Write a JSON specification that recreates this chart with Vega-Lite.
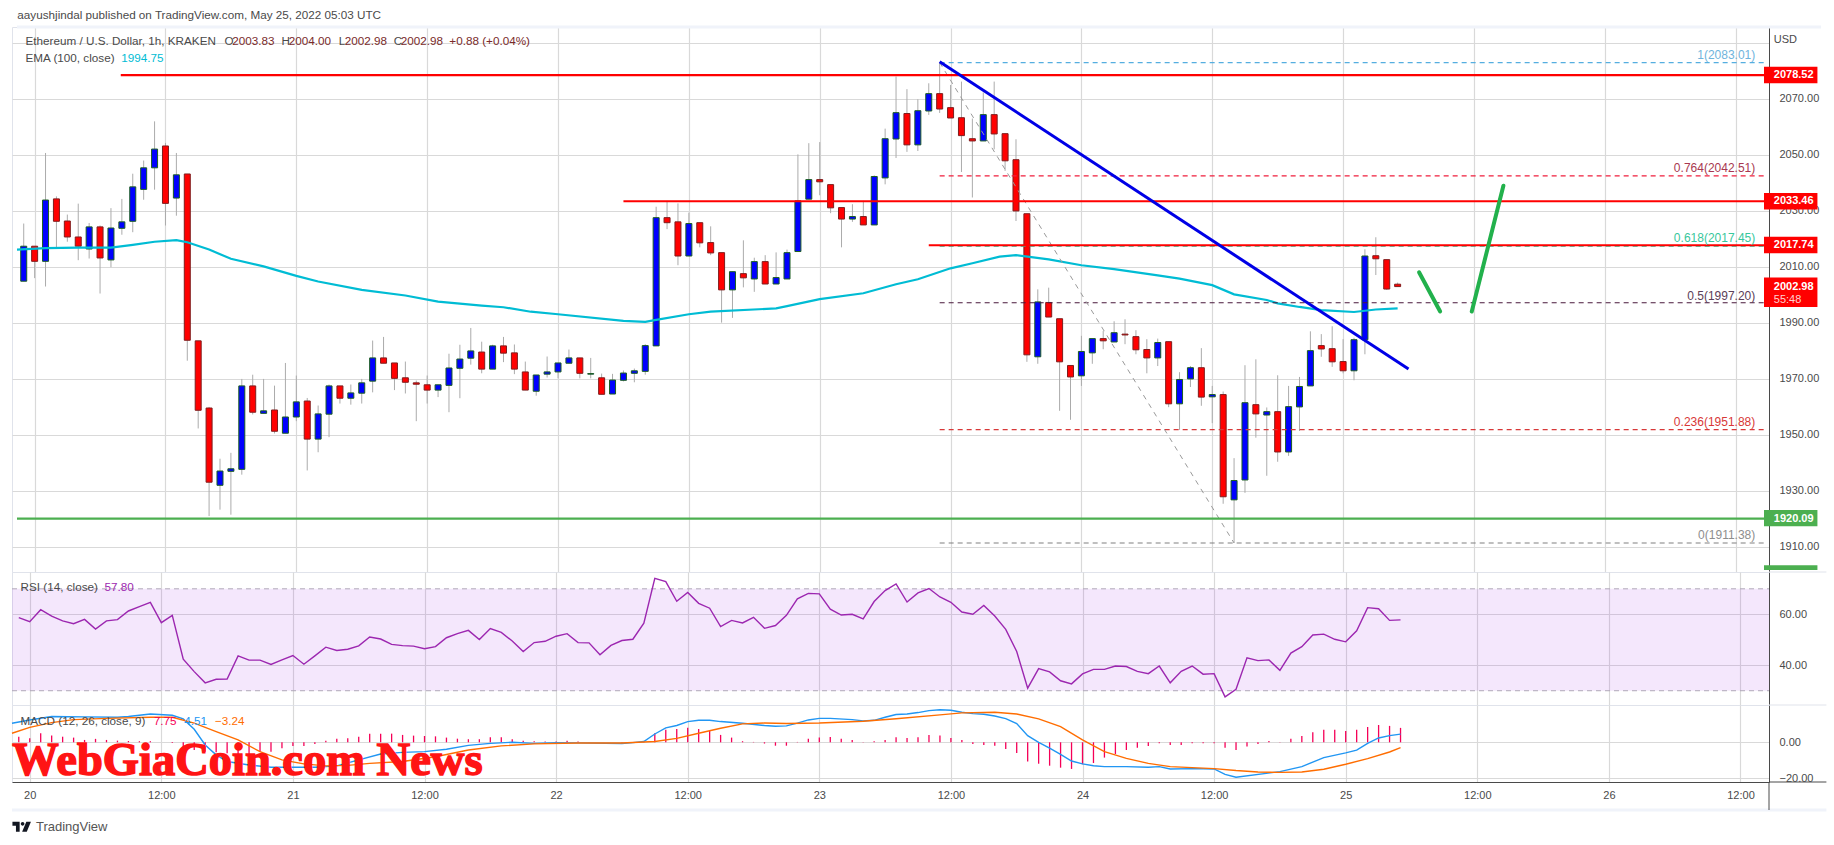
{
"$schema":"https://vega.github.io/schema/vega-lite/v6.json",
"background":"white",
"padding":{"left":8,"top":9,"right":0,"bottom":0},
"spacing":0,
"bounds":"flush",
"config":{"view":{"stroke":"#e0e3eb"},"legend":{"disable":true},
"axis":{"labelFont":"Liberation Sans","labelFontSize":11,"labelColor":"#4a4a4a","gridColor":"#d9d9d9","gridWidth":1.2,"ticks":false,"title":null,"domainColor":"#4a4a4a","labelOverlap":false},
"text":{"font":"Liberation Sans"}},
"datasets":{
"candles":[
{"t":"2022-05-19T23:00Z","d":"up","o":2004.9,"h":2025.5,"l":2004.9,"c":2017.4,"rsi":58.7,"hist":3.1},
{"t":"2022-05-20T00:00Z","d":"down","o":2017.4,"h":2017.4,"l":2006,"c":2012,"rsi":57.1,"hist":2.2},
{"t":"2022-05-20T01:00Z","d":"up","o":2012,"h":2050.7,"l":2003,"c":2033.9,"rsi":61.8,"hist":5},
{"t":"2022-05-20T02:00Z","d":"down","o":2034.3,"h":2035.2,"l":2016.8,"c":2026.3,"rsi":59.3,"hist":3.7},
{"t":"2022-05-20T03:00Z","d":"down","o":2026.4,"h":2028.7,"l":2019,"c":2020.7,"rsi":57.4,"hist":3.1},
{"t":"2022-05-20T04:00Z","d":"down","o":2020.7,"h":2032.6,"l":2012.4,"c":2017.4,"rsi":56.3,"hist":2.6},
{"t":"2022-05-20T05:00Z","d":"up","o":2016.4,"h":2025.7,"l":2013,"c":2024.3,"rsi":58,"hist":1.3},
{"t":"2022-05-20T06:00Z","d":"down","o":2024.3,"h":2024.8,"l":2000.5,"c":2013.2,"rsi":54.2,"hist":1.9},
{"t":"2022-05-20T07:00Z","d":"up","o":2012.5,"h":2031,"l":2009.9,"c":2023.9,"rsi":57.4,"hist":1.3},
{"t":"2022-05-20T08:00Z","d":"up","o":2023.8,"h":2034.3,"l":2021.5,"c":2026.1,"rsi":57.9,"hist":0.9},
{"t":"2022-05-20T09:00Z","d":"up","o":2026.3,"h":2043.3,"l":2022.4,"c":2038.6,"rsi":61.3,"hist":0.7},
{"t":"2022-05-20T10:00Z","d":"up","o":2037.7,"h":2048,"l":2034,"c":2045.4,"rsi":63,"hist":0.6},
{"t":"2022-05-20T11:00Z","d":"up","o":2045.4,"h":2062,"l":2037.6,"c":2052.1,"rsi":64.7,"hist":0.6},
{"t":"2022-05-20T12:00Z","d":"down","o":2053.2,"h":2054.3,"l":2024.8,"c":2032.7,"rsi":56.7,"hist":0},
{"t":"2022-05-20T13:00Z","d":"up","o":2034.6,"h":2050.7,"l":2028.3,"c":2042.9,"rsi":59.6,"hist":-0.4},
{"t":"2022-05-20T14:00Z","d":"down","o":2043.2,"h":2043.2,"l":1976.5,"c":1983.8,"rsi":42.4,"hist":-3.3},
{"t":"2022-05-20T15:00Z","d":"down","o":1983.6,"h":1983.6,"l":1952.3,"c":1958.8,"rsi":37.5,"hist":-4.3},
{"t":"2022-05-20T16:00Z","d":"down","o":1959.6,"h":1960,"l":1921,"c":1933.1,"rsi":33.1,"hist":-5.2},
{"t":"2022-05-20T17:00Z","d":"up","o":1932,"h":1941.5,"l":1923.3,"c":1937.1,"rsi":34.5,"hist":-5.6},
{"t":"2022-05-20T18:00Z","d":"up","o":1937,"h":1943.6,"l":1921.5,"c":1937.9,"rsi":34.6,"hist":-6.1},
{"t":"2022-05-20T19:00Z","d":"up","o":1937.7,"h":1970,"l":1935.8,"c":1967.5,"rsi":43.7,"hist":-7},
{"t":"2022-05-20T20:00Z","d":"down","o":1967.5,"h":1971.5,"l":1957.3,"c":1958.1,"rsi":42,"hist":-6.7},
{"t":"2022-05-20T21:00Z","d":"up","o":1957.7,"h":1970,"l":1957.7,"c":1958.6,"rsi":42,"hist":-5.2},
{"t":"2022-05-20T22:00Z","d":"down","o":1958.9,"h":1967.6,"l":1950.5,"c":1951.3,"rsi":40.3,"hist":-5.2},
{"t":"2022-05-20T23:00Z","d":"up","o":1950.6,"h":1975.7,"l":1950.6,"c":1956.4,"rsi":42.1,"hist":-3.3},
{"t":"2022-05-21T00:00Z","d":"up","o":1956.4,"h":1971.2,"l":1954.9,"c":1961.8,"rsi":43.8,"hist":-2},
{"t":"2022-05-21T01:00Z","d":"down","o":1962.1,"h":1963.2,"l":1937.3,"c":1948.5,"rsi":40.4,"hist":-2},
{"t":"2022-05-21T02:00Z","d":"up","o":1948.5,"h":1960.5,"l":1943.8,"c":1957.5,"rsi":43.7,"hist":-0.9},
{"t":"2022-05-21T03:00Z","d":"up","o":1957.4,"h":1968,"l":1949.2,"c":1967.5,"rsi":47.1,"hist":0.9},
{"t":"2022-05-21T04:00Z","d":"down","o":1967.5,"h":1967.5,"l":1961.2,"c":1963.1,"rsi":45.8,"hist":1.9},
{"t":"2022-05-21T05:00Z","d":"up","o":1963.1,"h":1968,"l":1960.8,"c":1965,"rsi":46.3,"hist":2.2},
{"t":"2022-05-21T06:00Z","d":"up","o":1964.9,"h":1970,"l":1961.2,"c":1968.6,"rsi":47.6,"hist":3.1},
{"t":"2022-05-21T07:00Z","d":"up","o":1969.2,"h":1983.7,"l":1965.2,"c":1977.5,"rsi":51.1,"hist":4.8},
{"t":"2022-05-21T08:00Z","d":"down","o":1977.5,"h":1985,"l":1975.6,"c":1975.6,"rsi":50.3,"hist":4.8},
{"t":"2022-05-21T09:00Z","d":"down","o":1975.7,"h":1975.7,"l":1966,"c":1970.2,"rsi":48.2,"hist":4.8},
{"t":"2022-05-21T10:00Z","d":"down","o":1970.4,"h":1976.2,"l":1964.8,"c":1968.8,"rsi":47.7,"hist":4.1},
{"t":"2022-05-21T11:00Z","d":"down","o":1968.6,"h":1969.4,"l":1954.9,"c":1968.1,"rsi":47.5,"hist":3.7},
{"t":"2022-05-21T12:00Z","d":"down","o":1967.9,"h":1971.2,"l":1961.2,"c":1966,"rsi":46.5,"hist":3.5},
{"t":"2022-05-21T13:00Z","d":"up","o":1966,"h":1967.9,"l":1963.5,"c":1967.9,"rsi":47.3,"hist":3.3},
{"t":"2022-05-21T14:00Z","d":"up","o":1967.7,"h":1979,"l":1958.1,"c":1973.9,"rsi":50.8,"hist":2.6},
{"t":"2022-05-21T15:00Z","d":"up","o":1973.8,"h":1982.2,"l":1963.1,"c":1977.1,"rsi":52.4,"hist":2},
{"t":"2022-05-21T16:00Z","d":"up","o":1977.4,"h":1988.2,"l":1975.1,"c":1980,"rsi":53.7,"hist":1.7},
{"t":"2022-05-21T17:00Z","d":"down","o":1979.6,"h":1983.3,"l":1972,"c":1973.5,"rsi":50.1,"hist":1.7},
{"t":"2022-05-21T18:00Z","d":"up","o":1973.5,"h":1982.2,"l":1973.5,"c":1981.8,"rsi":54.4,"hist":2.8},
{"t":"2022-05-21T19:00Z","d":"down","o":1981.8,"h":1985,"l":1976,"c":1979.2,"rsi":52.9,"hist":2.8},
{"t":"2022-05-21T20:00Z","d":"down","o":1979.3,"h":1982.3,"l":1971.7,"c":1973.5,"rsi":49.5,"hist":1.7},
{"t":"2022-05-21T21:00Z","d":"down","o":1972.5,"h":1976.2,"l":1966,"c":1966,"rsi":45.4,"hist":0.9},
{"t":"2022-05-21T22:00Z","d":"up","o":1965.6,"h":1971.4,"l":1964,"c":1971.4,"rsi":48.9,"hist":0.6},
{"t":"2022-05-21T23:00Z","d":"up","o":1971.7,"h":1978,"l":1970.5,"c":1972.5,"rsi":49.4,"hist":0.4},
{"t":"2022-05-22T00:00Z","d":"up","o":1972.5,"h":1975.7,"l":1970.2,"c":1975.7,"rsi":51.4,"hist":0.4},
{"t":"2022-05-22T01:00Z","d":"up","o":1975.6,"h":1980.5,"l":1975.6,"c":1977.5,"rsi":52.4,"hist":0.9},
{"t":"2022-05-22T02:00Z","d":"down","o":1977.5,"h":1977.5,"l":1970.2,"c":1972,"rsi":48.9,"hist":0.4},
{"t":"2022-05-22T03:00Z","d":"up","o":1971.7,"h":1977.5,"l":1970.2,"c":1971.9,"rsi":48.8,"hist":0.2},
{"t":"2022-05-22T04:00Z","d":"down","o":1970.4,"h":1971.9,"l":1964.5,"c":1964.5,"rsi":44.1,"hist":0},
{"t":"2022-05-22T05:00Z","d":"up","o":1964.6,"h":1971.8,"l":1964.6,"c":1969.6,"rsi":47.8,"hist":0},
{"t":"2022-05-22T06:00Z","d":"up","o":1969.5,"h":1973,"l":1969.1,"c":1972.1,"rsi":49.7,"hist":-0.2},
{"t":"2022-05-22T07:00Z","d":"up","o":1972,"h":1973.7,"l":1968.8,"c":1972.9,"rsi":50.2,"hist":0.2},
{"t":"2022-05-22T08:00Z","d":"up","o":1972.7,"h":1982.4,"l":1971.5,"c":1981.9,"rsi":56.5,"hist":0.6},
{"t":"2022-05-22T09:00Z","d":"up","o":1981.8,"h":2031.5,"l":1981.8,"c":2027.6,"rsi":74.1,"hist":5},
{"t":"2022-05-22T10:00Z","d":"down","o":2027.6,"h":2033.6,"l":2023.5,"c":2025.8,"rsi":72.8,"hist":6.9},
{"t":"2022-05-22T11:00Z","d":"down","o":2026.1,"h":2032.7,"l":2010.6,"c":2013.9,"rsi":65.1,"hist":7.4},
{"t":"2022-05-22T12:00Z","d":"up","o":2013.9,"h":2029.4,"l":2013.9,"c":2025.5,"rsi":68.6,"hist":8},
{"t":"2022-05-22T13:00Z","d":"down","o":2025.8,"h":2025.8,"l":2017,"c":2018.6,"rsi":64.3,"hist":7.4},
{"t":"2022-05-22T14:00Z","d":"down","o":2018.7,"h":2024.5,"l":2014.2,"c":2015,"rsi":62.4,"hist":6.3},
{"t":"2022-05-22T15:00Z","d":"down","o":2015.1,"h":2015.1,"l":1990.1,"c":2001.8,"rsi":55.2,"hist":4.1},
{"t":"2022-05-22T16:00Z","d":"up","o":2001.8,"h":2008.3,"l":1991.8,"c":2008.3,"rsi":57.6,"hist":2.6},
{"t":"2022-05-22T17:00Z","d":"down","o":2007.6,"h":2019.5,"l":2002.7,"c":2006.1,"rsi":56.6,"hist":0.6},
{"t":"2022-05-22T18:00Z","d":"up","o":2005.7,"h":2013.3,"l":2001.1,"c":2011.9,"rsi":58.8,"hist":0.2},
{"t":"2022-05-22T19:00Z","d":"down","o":2011.9,"h":2014.2,"l":2003.9,"c":2003.9,"rsi":54.5,"hist":-0.7},
{"t":"2022-05-22T20:00Z","d":"up","o":2003.9,"h":2015.2,"l":2003.9,"c":2006.2,"rsi":55.6,"hist":-1.9},
{"t":"2022-05-22T21:00Z","d":"up","o":2005.7,"h":2016.2,"l":2005.7,"c":2015.1,"rsi":59.6,"hist":-1.9},
{"t":"2022-05-22T22:00Z","d":"up","o":2015.5,"h":2050.2,"l":2015.5,"c":2033.6,"rsi":66.1,"hist":0.2},
{"t":"2022-05-22T23:00Z","d":"up","o":2034.2,"h":2054.2,"l":2034.2,"c":2041.2,"rsi":68.2,"hist":1.9},
{"t":"2022-05-23T00:00Z","d":"down","o":2041.2,"h":2054.6,"l":2035.6,"c":2040.4,"rsi":68,"hist":2.6},
{"t":"2022-05-23T01:00Z","d":"down","o":2039.4,"h":2039.4,"l":2029.2,"c":2031.1,"rsi":62,"hist":3},
{"t":"2022-05-23T02:00Z","d":"down","o":2031.2,"h":2031.2,"l":2017,"c":2027.1,"rsi":59.7,"hist":2},
{"t":"2022-05-23T03:00Z","d":"up","o":2027.1,"h":2032.4,"l":2026.1,"c":2028,"rsi":60,"hist":1.3},
{"t":"2022-05-23T04:00Z","d":"down","o":2028,"h":2033.6,"l":2025,"c":2025,"rsi":58.2,"hist":0.2},
{"t":"2022-05-23T05:00Z","d":"up","o":2025,"h":2042.7,"l":2025,"c":2042.3,"rsi":65,"hist":0.6},
{"t":"2022-05-23T06:00Z","d":"up","o":2041.8,"h":2059.4,"l":2039.5,"c":2055.8,"rsi":69.3,"hist":1.3},
{"t":"2022-05-23T07:00Z","d":"up","o":2055.7,"h":2078,"l":2048.9,"c":2065.1,"rsi":71.9,"hist":2.8},
{"t":"2022-05-23T08:00Z","d":"down","o":2064.8,"h":2073.5,"l":2051.1,"c":2053.6,"rsi":64.8,"hist":2.4},
{"t":"2022-05-23T09:00Z","d":"up","o":2053.6,"h":2069.9,"l":2051.4,"c":2065.8,"rsi":68.4,"hist":2.8},
{"t":"2022-05-23T10:00Z","d":"up","o":2065.7,"h":2075.6,"l":2064.3,"c":2071.9,"rsi":70.1,"hist":4.1},
{"t":"2022-05-23T11:00Z","d":"down","o":2071.9,"h":2083,"l":2065,"c":2066.4,"rsi":66.8,"hist":3.7},
{"t":"2022-05-23T12:00Z","d":"down","o":2066.9,"h":2075,"l":2063.2,"c":2063.2,"rsi":64.7,"hist":2.4},
{"t":"2022-05-23T13:00Z","d":"down","o":2063.3,"h":2076.2,"l":2043.9,"c":2056.9,"rsi":60.9,"hist":1.3},
{"t":"2022-05-23T14:00Z","d":"down","o":2055.8,"h":2063,"l":2034.8,"c":2055,"rsi":60,"hist":-0.9},
{"t":"2022-05-23T15:00Z","d":"up","o":2055,"h":2072.3,"l":2055,"c":2064.4,"rsi":63.5,"hist":-1.5},
{"t":"2022-05-23T16:00Z","d":"down","o":2064.4,"h":2076.2,"l":2052,"c":2057.5,"rsi":59.3,"hist":-1.9},
{"t":"2022-05-23T17:00Z","d":"down","o":2057.6,"h":2057.6,"l":2044.3,"c":2047.9,"rsi":54.1,"hist":-3.7},
{"t":"2022-05-23T18:00Z","d":"down","o":2048.3,"h":2055.6,"l":2026.4,"c":2030,"rsi":45.4,"hist":-5.9},
{"t":"2022-05-23T19:00Z","d":"down","o":2029,"h":2029,"l":1976.1,"c":1978.6,"rsi":31,"hist":-10.7},
{"t":"2022-05-23T20:00Z","d":"up","o":1977.9,"h":2002,"l":1975.4,"c":1997.5,"rsi":38.7,"hist":-11.9},
{"t":"2022-05-23T21:00Z","d":"down","o":1997.3,"h":2002.6,"l":1992.1,"c":1992.1,"rsi":37.4,"hist":-13},
{"t":"2022-05-23T22:00Z","d":"down","o":1991.5,"h":1991.5,"l":1958.6,"c":1976.1,"rsi":33.9,"hist":-14.1},
{"t":"2022-05-23T23:00Z","d":"down","o":1974.8,"h":1974.8,"l":1955.4,"c":1970.7,"rsi":32.7,"hist":-14.8},
{"t":"2022-05-24T00:00Z","d":"up","o":1971.1,"h":1985.4,"l":1967.5,"c":1979.8,"rsi":36.6,"hist":-12.2},
{"t":"2022-05-24T01:00Z","d":"up","o":1979.3,"h":1984.4,"l":1975.4,"c":1984.4,"rsi":38.4,"hist":-11.5},
{"t":"2022-05-24T02:00Z","d":"down","o":1984.4,"h":1987.1,"l":1980.6,"c":1983.6,"rsi":38.4,"hist":-8.5},
{"t":"2022-05-24T03:00Z","d":"up","o":1983.2,"h":1990.6,"l":1983.2,"c":1986.5,"rsi":39.7,"hist":-6.5},
{"t":"2022-05-24T04:00Z","d":"down","o":1986,"h":1991.3,"l":1982.4,"c":1985.7,"rsi":39.5,"hist":-4.3},
{"t":"2022-05-24T05:00Z","d":"down","o":1985.1,"h":1987.4,"l":1978.8,"c":1980.4,"rsi":37.6,"hist":-3},
{"t":"2022-05-24T06:00Z","d":"down","o":1980.5,"h":1984.2,"l":1972,"c":1977.5,"rsi":36.7,"hist":-2},
{"t":"2022-05-24T07:00Z","d":"up","o":1977.5,"h":1984.4,"l":1974.6,"c":1983,"rsi":39.7,"hist":-0.6},
{"t":"2022-05-24T08:00Z","d":"down","o":1983.3,"h":1983.3,"l":1959.9,"c":1961.1,"rsi":33.1,"hist":-1.5},
{"t":"2022-05-24T09:00Z","d":"up","o":1961.1,"h":1972.4,"l":1951.8,"c":1969.8,"rsi":37.6,"hist":-1.5},
{"t":"2022-05-24T10:00Z","d":"up","o":1970,"h":1974.6,"l":1967.1,"c":1974,"rsi":39.7,"hist":-0.6},
{"t":"2022-05-24T11:00Z","d":"down","o":1974,"h":1981,"l":1960.4,"c":1963.5,"rsi":36.5,"hist":-0.6},
{"t":"2022-05-24T12:00Z","d":"up","o":1963.6,"h":1967.5,"l":1954.2,"c":1964.4,"rsi":36.7,"hist":-0.6},
{"t":"2022-05-24T13:00Z","d":"down","o":1964.4,"h":1965.5,"l":1925.4,"c":1927.9,"rsi":27.6,"hist":-3},
{"t":"2022-05-24T14:00Z","d":"up","o":1926.8,"h":1941.7,"l":1911.4,"c":1933.7,"rsi":30.6,"hist":-4.3},
{"t":"2022-05-24T15:00Z","d":"up","o":1933.9,"h":1974.9,"l":1929.3,"c":1961.5,"rsi":42.9,"hist":-2.4},
{"t":"2022-05-24T16:00Z","d":"down","o":1960.8,"h":1977,"l":1949,"c":1957.5,"rsi":41.8,"hist":-0.9},
{"t":"2022-05-24T17:00Z","d":"up","o":1957.1,"h":1959.8,"l":1935.4,"c":1958.3,"rsi":42.1,"hist":0.7},
{"t":"2022-05-24T18:00Z","d":"down","o":1958.3,"h":1971.3,"l":1940.4,"c":1943.9,"rsi":38,"hist":0.2},
{"t":"2022-05-24T19:00Z","d":"up","o":1943.9,"h":1967.5,"l":1942.5,"c":1960.1,"rsi":44.8,"hist":1.9},
{"t":"2022-05-24T20:00Z","d":"up","o":1960,"h":1970.7,"l":1951.4,"c":1967.3,"rsi":47.3,"hist":3.5},
{"t":"2022-05-24T21:00Z","d":"up","o":1967.5,"h":1987,"l":1967.5,"c":1980.1,"rsi":51.9,"hist":5.6},
{"t":"2022-05-24T22:00Z","d":"down","o":1981.9,"h":1986,"l":1977.9,"c":1980.7,"rsi":52.2,"hist":6.9},
{"t":"2022-05-24T23:00Z","d":"down","o":1980.8,"h":1988.8,"l":1974.3,"c":1976.1,"rsi":50.2,"hist":6.9},
{"t":"2022-05-25T00:00Z","d":"down","o":1976.2,"h":1984.2,"l":1972,"c":1972.9,"rsi":49.2,"hist":6.3},
{"t":"2022-05-25T01:00Z","d":"up","o":1972.9,"h":1984.7,"l":1969.5,"c":1984,"rsi":53.5,"hist":6.9},
{"t":"2022-05-25T02:00Z","d":"up","o":1984,"h":2016.3,"l":1978.8,"c":2013.9,"rsi":62.6,"hist":8.5},
{"t":"2022-05-25T03:00Z","d":"down","o":2014,"h":2020.6,"l":2007.1,"c":2012.9,"rsi":62.2,"hist":9.6},
{"t":"2022-05-25T04:00Z","d":"down","o":2012.6,"h":2012.6,"l":2001.8,"c":2002.1,"rsi":57.6,"hist":9.1},
{"t":"2022-05-25T05:00Z","d":"down","o":2003.83,"h":2004.4,"l":2002.98,"c":2002.98,"rsi":57.8,"hist":8}
],
"ema":[
{"t":"2022-05-19T22:23Z","v":2016.2},{"t":"2022-05-20T01:00Z","v":2016.7},{"t":"2022-05-20T04:00Z","v":2016.9},{"t":"2022-05-20T07:00Z","v":2016.9},{"t":"2022-05-20T09:00Z","v":2017.9},{"t":"2022-05-20T11:00Z","v":2019},{"t":"2022-05-20T13:00Z","v":2019.6},{"t":"2022-05-20T14:00Z","v":2018.8},{"t":"2022-05-20T16:00Z","v":2016.2},{"t":"2022-05-20T18:00Z","v":2012.9},{"t":"2022-05-20T21:00Z","v":2010.2},{"t":"2022-05-21T00:00Z","v":2006.8},{"t":"2022-05-21T02:00Z","v":2004.8},{"t":"2022-05-21T06:00Z","v":2001.8},{"t":"2022-05-21T10:00Z","v":1999.8},{"t":"2022-05-21T13:00Z","v":1997.6},{"t":"2022-05-21T17:00Z","v":1996.2},{"t":"2022-05-21T19:00Z","v":1995.6},{"t":"2022-05-21T21:30Z","v":1994},{"t":"2022-05-22T00:00Z","v":1993.1},{"t":"2022-05-22T06:00Z","v":1990.7},{"t":"2022-05-22T08:00Z","v":1990.4},{"t":"2022-05-22T09:00Z","v":1991.1},{"t":"2022-05-22T12:00Z","v":1993.1},{"t":"2022-05-22T14:00Z","v":1994},{"t":"2022-05-22T20:00Z","v":1995.2},{"t":"2022-05-22T21:00Z","v":1996},{"t":"2022-05-23T00:00Z","v":1998.5},{"t":"2022-05-23T04:00Z","v":2000.6},{"t":"2022-05-23T07:00Z","v":2003.8},{"t":"2022-05-23T09:00Z","v":2005.6},{"t":"2022-05-23T12:00Z","v":2009.5},{"t":"2022-05-23T14:00Z","v":2011.3},{"t":"2022-05-23T16:30Z","v":2013.7},{"t":"2022-05-23T18:00Z","v":2014.2},{"t":"2022-05-23T21:00Z","v":2012.7},{"t":"2022-05-24T00:00Z","v":2010.6},{"t":"2022-05-24T03:00Z","v":2009.2},{"t":"2022-05-24T07:00Z","v":2007},{"t":"2022-05-24T09:00Z","v":2005.8},{"t":"2022-05-24T12:00Z","v":2003.5},{"t":"2022-05-24T14:00Z","v":2000.2},{"t":"2022-05-24T17:00Z","v":1998.2},{"t":"2022-05-24T18:00Z","v":1997},{"t":"2022-05-24T20:00Z","v":1995.7},{"t":"2022-05-24T22:00Z","v":1994.6},{"t":"2022-05-25T01:00Z","v":1993.9},{"t":"2022-05-25T03:00Z","v":1994.8},{"t":"2022-05-25T05:00Z","v":1995.2}
],
"macd":[
{"t":"2022-05-19T22:23Z","v":10.6},{"t":"2022-05-20T00:00Z","v":12.4},{"t":"2022-05-20T02:00Z","v":14.3},{"t":"2022-05-20T05:00Z","v":14.1},{"t":"2022-05-20T08:00Z","v":13.9},{"t":"2022-05-20T09:00Z","v":14.3},{"t":"2022-05-20T11:00Z","v":15.7},{"t":"2022-05-20T13:00Z","v":15},{"t":"2022-05-20T14:00Z","v":13},{"t":"2022-05-20T15:00Z","v":7.2},{"t":"2022-05-20T16:00Z","v":-1.5},{"t":"2022-05-20T17:00Z","v":-7},{"t":"2022-05-20T18:00Z","v":-10.7},{"t":"2022-05-20T20:00Z","v":-12.6},{"t":"2022-05-20T22:00Z","v":-13.9},{"t":"2022-05-21T00:00Z","v":-13.9},{"t":"2022-05-21T02:00Z","v":-13.9},{"t":"2022-05-21T04:00Z","v":-13.1},{"t":"2022-05-21T06:00Z","v":-9.8},{"t":"2022-05-21T08:00Z","v":-6.5},{"t":"2022-05-21T10:00Z","v":-5.6},{"t":"2022-05-21T12:00Z","v":-5.2},{"t":"2022-05-21T14:00Z","v":-3.9},{"t":"2022-05-21T16:00Z","v":-1.7},{"t":"2022-05-21T18:00Z","v":-0.6},{"t":"2022-05-21T20:00Z","v":0},{"t":"2022-05-21T22:00Z","v":-0.6},{"t":"2022-05-22T00:00Z","v":-0.2},{"t":"2022-05-22T06:00Z","v":-0.7},{"t":"2022-05-22T07:00Z","v":-0.2},{"t":"2022-05-22T08:00Z","v":0.4},{"t":"2022-05-22T09:00Z","v":4.6},{"t":"2022-05-22T10:00Z","v":8},{"t":"2022-05-22T11:00Z","v":9.3},{"t":"2022-05-22T12:00Z","v":11.5},{"t":"2022-05-22T13:00Z","v":12.2},{"t":"2022-05-22T14:00Z","v":12.2},{"t":"2022-05-22T15:00Z","v":11.5},{"t":"2022-05-22T17:00Z","v":10.6},{"t":"2022-05-22T19:00Z","v":9.3},{"t":"2022-05-22T20:00Z","v":8.9},{"t":"2022-05-22T21:00Z","v":9.1},{"t":"2022-05-22T22:00Z","v":10.6},{"t":"2022-05-22T23:00Z","v":12.4},{"t":"2022-05-23T00:00Z","v":13.3},{"t":"2022-05-23T01:00Z","v":13.3},{"t":"2022-05-23T03:00Z","v":12.6},{"t":"2022-05-23T04:00Z","v":11.9},{"t":"2022-05-23T05:00Z","v":12.2},{"t":"2022-05-23T06:00Z","v":13.9},{"t":"2022-05-23T07:00Z","v":15.4},{"t":"2022-05-23T08:00Z","v":15.7},{"t":"2022-05-23T09:00Z","v":16.5},{"t":"2022-05-23T10:00Z","v":17.6},{"t":"2022-05-23T11:00Z","v":18.1},{"t":"2022-05-23T12:00Z","v":17.8},{"t":"2022-05-23T13:00Z","v":16.7},{"t":"2022-05-23T14:00Z","v":15.9},{"t":"2022-05-23T15:00Z","v":15.6},{"t":"2022-05-23T16:00Z","v":14.6},{"t":"2022-05-23T17:00Z","v":13.1},{"t":"2022-05-23T18:00Z","v":10.4},{"t":"2022-05-23T19:00Z","v":3.7},{"t":"2022-05-23T20:00Z","v":0},{"t":"2022-05-23T21:00Z","v":-3.3},{"t":"2022-05-23T22:00Z","v":-6.7},{"t":"2022-05-23T23:00Z","v":-10.4},{"t":"2022-05-24T00:00Z","v":-12},{"t":"2022-05-24T01:00Z","v":-13},{"t":"2022-05-24T02:00Z","v":-13.5},{"t":"2022-05-24T04:00Z","v":-13.5},{"t":"2022-05-24T06:00Z","v":-13.9},{"t":"2022-05-24T07:00Z","v":-13.5},{"t":"2022-05-24T08:00Z","v":-14.8},{"t":"2022-05-24T10:00Z","v":-14.6},{"t":"2022-05-24T12:00Z","v":-14.8},{"t":"2022-05-24T13:00Z","v":-17.8},{"t":"2022-05-24T14:00Z","v":-19.4},{"t":"2022-05-24T18:00Z","v":-16.3},{"t":"2022-05-24T20:00Z","v":-13.5},{"t":"2022-05-24T22:00Z","v":-8.5},{"t":"2022-05-25T00:00Z","v":-5.9},{"t":"2022-05-25T01:00Z","v":-4.4},{"t":"2022-05-25T02:00Z","v":-0.6},{"t":"2022-05-25T03:00Z","v":2.4},{"t":"2022-05-25T04:00Z","v":3.7},{"t":"2022-05-25T05:00Z","v":4.5}
],
"signal":[
{"t":"2022-05-19T22:23Z","v":5},{"t":"2022-05-20T00:00Z","v":8.3},{"t":"2022-05-20T02:00Z","v":10.9},{"t":"2022-05-20T04:00Z","v":12.6},{"t":"2022-05-20T07:00Z","v":13.3},{"t":"2022-05-20T11:00Z","v":13.9},{"t":"2022-05-20T13:00Z","v":13.9},{"t":"2022-05-20T15:00Z","v":10.6},{"t":"2022-05-20T17:00Z","v":5.9},{"t":"2022-05-20T19:00Z","v":1.3},{"t":"2022-05-20T21:00Z","v":-5.2},{"t":"2022-05-20T23:00Z","v":-9.8},{"t":"2022-05-21T01:00Z","v":-12},{"t":"2022-05-21T03:00Z","v":-13.1},{"t":"2022-05-21T05:00Z","v":-12.8},{"t":"2022-05-21T07:00Z","v":-11.7},{"t":"2022-05-21T10:00Z","v":-10.7},{"t":"2022-05-21T13:00Z","v":-8},{"t":"2022-05-21T16:00Z","v":-4.3},{"t":"2022-05-21T19:00Z","v":-2},{"t":"2022-05-21T22:00Z","v":-0.9},{"t":"2022-05-22T02:00Z","v":-0.4},{"t":"2022-05-22T06:00Z","v":-0.4},{"t":"2022-05-22T09:00Z","v":0.4},{"t":"2022-05-22T11:00Z","v":2.2},{"t":"2022-05-22T13:00Z","v":5},{"t":"2022-05-22T15:00Z","v":7.8},{"t":"2022-05-22T17:00Z","v":10.2},{"t":"2022-05-22T19:00Z","v":10.7},{"t":"2022-05-22T21:00Z","v":10.4},{"t":"2022-05-23T00:00Z","v":10.7},{"t":"2022-05-23T04:00Z","v":11.7},{"t":"2022-05-23T07:00Z","v":13.1},{"t":"2022-05-23T11:00Z","v":15.2},{"t":"2022-05-23T13:00Z","v":16.3},{"t":"2022-05-23T16:00Z","v":16.7},{"t":"2022-05-23T18:00Z","v":15.7},{"t":"2022-05-23T20:00Z","v":13},{"t":"2022-05-23T22:00Z","v":8.7},{"t":"2022-05-24T00:00Z","v":1.3},{"t":"2022-05-24T02:00Z","v":-5.2},{"t":"2022-05-24T04:00Z","v":-8.9},{"t":"2022-05-24T06:00Z","v":-11.7},{"t":"2022-05-24T08:00Z","v":-13.5},{"t":"2022-05-24T12:00Z","v":-14.6},{"t":"2022-05-24T14:00Z","v":-15.7},{"t":"2022-05-24T16:00Z","v":-16.5},{"t":"2022-05-24T18:00Z","v":-16.7},{"t":"2022-05-24T20:00Z","v":-16.5},{"t":"2022-05-24T22:00Z","v":-15},{"t":"2022-05-25T00:00Z","v":-12.2},{"t":"2022-05-25T02:00Z","v":-9.1},{"t":"2022-05-25T04:00Z","v":-5.4},{"t":"2022-05-25T05:00Z","v":-3}
]
},
"vconcat":[
{"width":1757,"height":545,
"encoding":{"x":{"field":"t","type":"temporal","scale":{"type":"utc","domain":[1652998980000,1653575760000],"nice":false},
"axis":{"values":[1653004800000,1653048000000,1653091200000,1653134400000,1653177600000,1653220800000,1653264000000,1653307200000,1653350400000,1653393600000,1653436800000,1653480000000,1653523200000,1653566400000],"grid":true,"labels":false,"ticks":false,"domain":false,"title":null}},
"y":{"field":"p","type":"quantitative","title":null,"scale":{"domain":[1901.03,2095.7],"nice":false,"zero":false},
"axis":{"orient":"right","values":[1910,1930,1950,1970,1990,2010,2030,2050,2070,2090],"labelExpr":"datum.value>=2090?'':format(datum.value,'.2f')","labelPadding":10,"grid":true,"title":null}}},
"layer":[
{"data":{"values":[{"t":"2022-05-19T22:23Z"},{"t":"2022-05-26T19:50Z"}]},"mark":{"type":"rule","color":"#f0f3fa","strokeWidth":3},"encoding":{"y":{"datum":2095.7},"y2":{"datum":1901.03}}},
{"data":{"values":[{"t":"2022-05-19T22:23Z","t1":"2022-05-26T19:50Z","p":2095.7}]},"mark":{"type":"rule","color":"#f0f3fa","strokeWidth":3},"encoding":{"x2":{"field":"t1"}}},
{"data":{"name":"candles"},"mark":{"type":"rule","color":"#ababab","strokeWidth":1},"encoding":{"y":{"field":"l","type":"quantitative","title":null,"scale":{"domain":[1901.03,2095.7],"nice":false,"zero":false}},"y2":{"field":"h"}}},
{"data":{"name":"candles"},"mark":{"type":"bar","size":6,"strokeWidth":1},"encoding":{"y":{"field":"o","type":"quantitative","title":null,"scale":{"domain":[1901.03,2095.7],"nice":false,"zero":false}},"y2":{"field":"c"},
"color":{"field":"d","type":"nominal","scale":{"domain":["up","down"],"range":["#0000ff","#ff0000"]}},
"stroke":{"field":"d","type":"nominal","scale":{"domain":["up","down"],"range":["#1b5e20","#7f1d1d"]}}}},
{"data":{"name":"ema"},"mark":{"type":"line","color":"#00bcd4","strokeWidth":2.2},"encoding":{"y":{"field":"v","type":"quantitative","title":null,"scale":{"domain":[1901.03,2095.7],"nice":false,"zero":false}}}},
{"data":{"values":[{"t":"2022-05-23T11:00Z","t1":"2022-05-26T14:36Z","p":2083.01,"level":"1"},{"t":"2022-05-23T11:00Z","t1":"2022-05-26T14:36Z","p":2042.51,"level":"0.764"},{"t":"2022-05-23T11:00Z","t1":"2022-05-26T14:36Z","p":2017.45,"level":"0.618"},{"t":"2022-05-23T11:00Z","t1":"2022-05-26T14:36Z","p":1997.2,"level":"0.5"},{"t":"2022-05-23T11:00Z","t1":"2022-05-26T14:36Z","p":1951.88,"level":"0.236"},{"t":"2022-05-23T11:00Z","t1":"2022-05-26T14:36Z","p":1911.38,"level":"0"}]},
"mark":{"type":"rule","strokeWidth":1.2,"strokeDash":[5,4]},"encoding":{"x2":{"field":"t1"},"color":{"field":"level","type":"nominal","scale":{"domain":["1","0.764","0.618","0.5","0.236","0"],"range":["#55aee0","#f01e3c","#22c596","#4a1a3c","#d83838","#808080"]}}}},
{"data":{"values":[{"t":"2022-05-23T11:00Z","p":2083.01},{"t":"2022-05-24T14:00Z","p":1911.38}]},"mark":{"type":"line","color":"#9a9a9a","strokeWidth":1,"strokeDash":[5,5]},"encoding":{}},
{"data":{"values":[{"t":"2022-05-20T07:54Z","t1":"2022-05-26T14:36Z","p":2078.52,"kind":"resistance"},{"t":"2022-05-22T06:00Z","t1":"2022-05-26T14:36Z","p":2033.46,"kind":"resistance"},{"t":"2022-05-23T10:00Z","t1":"2022-05-26T14:36Z","p":2017.74,"kind":"resistance"},{"t":"2022-05-19T22:23Z","t1":"2022-05-26T14:36Z","p":1920.09,"kind":"support"}]},
"mark":{"type":"rule","strokeWidth":2.2},"encoding":{"x2":{"field":"t1"},"color":{"field":"kind","type":"nominal","scale":{"domain":["resistance","support"],"range":["#ff0000","#4caf50"]}}}},
{"data":{"values":[{"t":"2022-05-23T11:00Z","p":2083.3},{"t":"2022-05-25T06:00Z","p":1973.5}]},"mark":{"type":"line","color":"#0000e6","strokeWidth":3},"encoding":{}},
{"data":{"values":[{"t":"2022-05-25T06:58Z","p":2008.1,"id":"a"},{"t":"2022-05-25T08:54Z","p":1994.1,"id":"a"},{"t":"2022-05-25T11:48Z","p":1994.1,"id":"b"},{"t":"2022-05-25T14:42Z","p":2039,"id":"b"}]},"mark":{"type":"line","color":"#22b14c","strokeWidth":4,"strokeCap":"round"},"encoding":{"detail":{"field":"id"}}},
{"data":{"values":[{"t":"2022-05-26T14:36Z","t1":"2022-05-26T19:30Z","p":2081.5,"p1":2075.6,"kind":"red"},{"t":"2022-05-26T14:36Z","t1":"2022-05-26T19:30Z","p":2036.4,"p1":2030.5,"kind":"red"},{"t":"2022-05-26T14:36Z","t1":"2022-05-26T19:30Z","p":2020.8,"p1":2014.9,"kind":"red"},{"t":"2022-05-26T14:36Z","t1":"2022-05-26T19:30Z","p":2006.2,"p1":1995.7,"kind":"red"},{"t":"2022-05-26T14:36Z","t1":"2022-05-26T19:30Z","p":1923.2,"p1":1917.4,"kind":"green"},{"t":"2022-05-26T14:36Z","t1":"2022-05-26T19:30Z","p":1903.4,"p1":1901.7,"kind":"green"}]},
"mark":{"type":"rect"},"encoding":{"x2":{"field":"t1"},"y2":{"field":"p1"},"color":{"field":"kind","type":"nominal","scale":{"domain":["red","green"],"range":["#ff0000","#4caf50"]}}}},
{"data":{"values":[{"t":"2022-05-26T15:30Z","p":2078.4,"label":"2078.52"},{"t":"2022-05-26T15:30Z","p":2033.4,"label":"2033.46"},{"t":"2022-05-26T15:30Z","p":2017.7,"label":"2017.74"},{"t":"2022-05-26T15:30Z","p":2003,"label":"2002.98"},{"t":"2022-05-26T15:30Z","p":1920.1,"label":"1920.09"}]},"mark":{"type":"text","align":"left","baseline":"middle","color":"white","fontWeight":"bold","fontSize":11},"encoding":{"text":{"field":"label"}}},
{"data":{"values":[{"t":"2022-05-26T15:30Z","p":1998.3,"label":"55:48"}]},"mark":{"type":"text","align":"left","baseline":"middle","color":"#ffd0d0","fontSize":11},"encoding":{"text":{"field":"label"}}},
{"data":{"values":[{"t":"2022-05-26T13:48Z","p":2085.6,"label":"1(2083.01)","level":"1"},{"t":"2022-05-26T13:48Z","p":2045.4,"label":"0.764(2042.51)","level":"0.764"},{"t":"2022-05-26T13:48Z","p":2020.4,"label":"0.618(2017.45)","level":"0.618"},{"t":"2022-05-26T13:48Z","p":1999.7,"label":"0.5(1997.20)","level":"0.5"},{"t":"2022-05-26T13:48Z","p":1954.5,"label":"0.236(1951.88)","level":"0.236"},{"t":"2022-05-26T13:48Z","p":1914.1,"label":"0(1911.38)","level":"0"}]},
"mark":{"type":"text","align":"right","baseline":"middle","fontSize":12},"encoding":{"text":{"field":"label"},"color":{"field":"level","type":"nominal","scale":{"domain":["1","0.764","0.618","0.5","0.236","0"],"range":["#6fb4dc","#a83850","#38c79c","#5c4058","#d83838","#8e8e8e"]}}}},
{"data":{"values":[{"t":"2022-05-19T22:25Z","p":2100.1,"label":"aayushjindal published on TradingView.com, May 25, 2022 05:03 UTC","kind":"text"},{"t":"2022-05-19T23:10Z","p":2090.6,"label":"Ethereum / U.S. Dollar, 1h, KRAKEN","kind":"text"},{"t":"2022-05-20T17:25Z","p":2090.6,"label":"O","kind":"text"},{"t":"2022-05-20T18:07Z","p":2090.6,"label":"2003.83","kind":"value"},{"t":"2022-05-20T22:39Z","p":2090.6,"label":"H","kind":"text"},{"t":"2022-05-20T23:19Z","p":2090.6,"label":"2004.00","kind":"value"},{"t":"2022-05-21T03:53Z","p":2090.6,"label":"L","kind":"text"},{"t":"2022-05-21T04:26Z","p":2090.6,"label":"2002.98","kind":"value"},{"t":"2022-05-21T08:56Z","p":2090.6,"label":"C","kind":"text"},{"t":"2022-05-21T09:34Z","p":2090.6,"label":"2002.98","kind":"value"},{"t":"2022-05-21T14:02Z","p":2090.6,"label":"+0.88 (+0.04%)","kind":"value"},{"t":"2022-05-19T23:10Z","p":2084.5,"label":"EMA (100, close)","kind":"text"},{"t":"2022-05-20T07:56Z","p":2084.5,"label":"1994.75","kind":"ema"}]},
"mark":{"type":"text","align":"left","baseline":"middle","fontSize":11.7},"encoding":{"text":{"field":"label"},"color":{"field":"kind","type":"nominal","scale":{"domain":["text","value","ema"],"range":["#4a4a4a","#7a2a2a","#00bcd4"]}}}},
{"data":{"values":[{"t":"2022-05-26T15:30Z","p":2091,"label":"USD"}]},"mark":{"type":"text","align":"left","baseline":"middle","color":"#4a4a4a","fontSize":11},"encoding":{"text":{"field":"label"}}}
],
"resolve":{"scale":{"color":"independent","stroke":"independent"}}
},
{"width":1757,"height":133,
"encoding":{"x":{"field":"t","type":"temporal","scale":{"type":"utc","domain":[1652998980000,1653575760000],"nice":false},
"axis":{"values":[1653004800000,1653048000000,1653091200000,1653134400000,1653177600000,1653220800000,1653264000000,1653307200000,1653350400000,1653393600000,1653436800000,1653480000000,1653523200000,1653566400000],"grid":true,"labels":false,"ticks":false,"domain":false,"title":null}},
"y":{"field":"v","type":"quantitative","title":null,"scale":{"domain":[24.4,76.6],"nice":false,"zero":false},
"axis":{"orient":"right","values":[40,60],"format":".2f","labelPadding":10,"grid":true,"title":null}}},
"layer":[
{"data":{"values":[{"t":"2022-05-19T22:23Z"},{"t":"2022-05-26T19:50Z"}]},"mark":{"type":"rule","color":"#f0f3fa","strokeWidth":3},"encoding":{"y":{"datum":76.6},"y2":{"datum":24.4}}},
{"data":{"values":[{"t":"2022-05-26T14:36Z","t1":"2022-05-26T19:50Z","v":76.6}]},"mark":{"type":"rule","color":"#e0e3eb","strokeWidth":1},"encoding":{"x2":{"field":"t1"}}},
{"data":{"values":[{"t":"2022-05-19T22:23Z","t1":"2022-05-26T14:36Z","v":70,"v1":30}]},"mark":{"type":"rect","color":"#9b27e0","opacity":0.11},"encoding":{"x2":{"field":"t1"},"y2":{"field":"v1"}}},
{"data":{"values":[{"t":"2022-05-19T22:23Z","t1":"2022-05-26T14:36Z","v":70},{"t":"2022-05-19T22:23Z","t1":"2022-05-26T14:36Z","v":30}]},"mark":{"type":"rule","color":"#b0a8b8","strokeWidth":1,"strokeDash":[5,4]},"encoding":{"x2":{"field":"t1"}}},
{"data":{"name":"candles"},"mark":{"type":"line","color":"#9c27b0","strokeWidth":1.4},"encoding":{"y":{"field":"rsi","type":"quantitative","title":null,"scale":{"domain":[24.4,76.6],"nice":false,"zero":false}}}},
{"data":{"values":[{"t":"2022-05-19T23:10Z","v":70.8,"label":"RSI (14, close)","kind":"text"},{"t":"2022-05-20T06:49Z","v":70.8,"label":"57.80","kind":"value"}]},"mark":{"type":"text","align":"left","baseline":"middle","fontSize":11.7},"encoding":{"text":{"field":"label"},"color":{"field":"kind","type":"nominal","scale":{"domain":["text","value"],"range":["#4a4a4a","#9c27b0"]}}}}
]
},
{"width":1757,"height":77,
"encoding":{"x":{"field":"t","type":"temporal","scale":{"type":"utc","domain":[1652998980000,1653575760000],"nice":false},
"axis":{"values":[1653004800000,1653048000000,1653091200000,1653134400000,1653177600000,1653220800000,1653264000000,1653307200000,1653350400000,1653393600000,1653436800000,1653480000000,1653523200000,1653566400000],"grid":true,"labels":true,"ticks":false,"domain":true,"title":null,"labelPadding":7,"labelExpr":"utchours(datum.value)===12?'12:00':utcdate(datum.value)"}},
"y":{"field":"v","type":"quantitative","title":null,"scale":{"domain":[-22.05,20.7],"nice":false,"zero":false},
"axis":{"orient":"right","values":[-20,0],"format":".2f","labelPadding":10,"grid":true,"title":null}}},
"layer":[
{"data":{"values":[{"t":"2022-05-19T22:23Z"},{"t":"2022-05-26T19:50Z"}]},"mark":{"type":"rule","color":"#f0f3fa","strokeWidth":3},"encoding":{"y":{"datum":20.7},"y2":{"datum":-37.6}}},
{"data":{"values":[{"t":"2022-05-19T22:23Z","t1":"2022-05-26T19:50Z","v":-37.6}]},"mark":{"type":"rule","color":"#f0f3fa","strokeWidth":3},"encoding":{"x2":{"field":"t1"}}},
{"data":{"values":[{"t":"2022-05-26T14:36Z","t1":"2022-05-26T19:50Z","v":20.7}]},"mark":{"type":"rule","color":"#e0e3eb","strokeWidth":1},"encoding":{"x2":{"field":"t1"}}},
{"data":{"values":[{"t":"2022-05-26T14:36Z","t1":"2022-05-26T19:50Z","v":-22.05}]},"mark":{"type":"rule","color":"#4a4a4a","strokeWidth":1},"encoding":{"x2":{"field":"t1"}}},
{"data":{"values":[{"t":"2022-05-26T14:36Z","v":-22.05,"v1":-37.6}]},"mark":{"type":"rule","color":"#4a4a4a","strokeWidth":1},"encoding":{"y2":{"field":"v1"}}},
{"data":{"name":"candles"},"mark":{"type":"rule","color":"#f50057","strokeWidth":1.3},"encoding":{"y":{"field":"hist","type":"quantitative","title":null,"scale":{"domain":[-22.05,20.7],"nice":false,"zero":false}},"y2":{"datum":0}}},
{"data":{"name":"macd"},"mark":{"type":"line","color":"#2196f3","strokeWidth":1.4},"encoding":{}},
{"data":{"name":"signal"},"mark":{"type":"line","color":"#ff6d00","strokeWidth":1.4},"encoding":{}},
{"data":{"values":[{"t":"2022-05-19T23:10Z","v":11.8,"label":"MACD (12, 26, close, 9)","kind":"text"},{"t":"2022-05-20T11:19Z","v":11.8,"label":"7.75","kind":"hist"},{"t":"2022-05-20T14:06Z","v":11.8,"label":"4.51","kind":"macd"},{"t":"2022-05-20T16:53Z","v":11.8,"label":"−3.24","kind":"signal"}]},"mark":{"type":"text","align":"left","baseline":"middle","fontSize":11.7},"encoding":{"text":{"field":"label"},"color":{"field":"kind","type":"nominal","scale":{"domain":["text","hist","macd","signal"],"range":["#4a4a4a","#f50057","#2196f3","#ff6d00"]}}}},
{"data":{"values":[{"t":"2022-05-19T22:25Z","v":-18.2,"label":"WebGiaCoin.com News"}]},"mark":{"type":"text","align":"left","baseline":"alphabetic","font":"Liberation Serif","fontWeight":"bold","fontSize":46.5,"color":"#ff1414","stroke":"#ff1414","strokeWidth":1.5},"encoding":{"text":{"field":"label"}}},
{"data":{"values":[{"t":"2022-05-20T00:34Z","v":-47.2,"label":"TradingView"}]},"mark":{"type":"text","align":"left","baseline":"middle","fontSize":13,"color":"#555555"},"encoding":{"text":{"field":"label"}}},
{"data":{"values":[{"t":"2022-05-19T23:16Z","v":-46.9}]},"mark":{"type":"point","filled":true,"opacity":1,"size":342,"color":"#131722","shape":"M-1 -0.54 H-0.22 V0.54 H-0.62 V-0.12 H-1 Z M-0.1 -0.32 A0.2 0.2 0 1 0 0.3 -0.32 A0.2 0.2 0 1 0 -0.1 -0.32 Z M0.5 -0.54 H1 L0.55 0.54 H0.05 Z"},"encoding":{}}
],
"resolve":{"scale":{"color":"independent"}}
}
]
}
